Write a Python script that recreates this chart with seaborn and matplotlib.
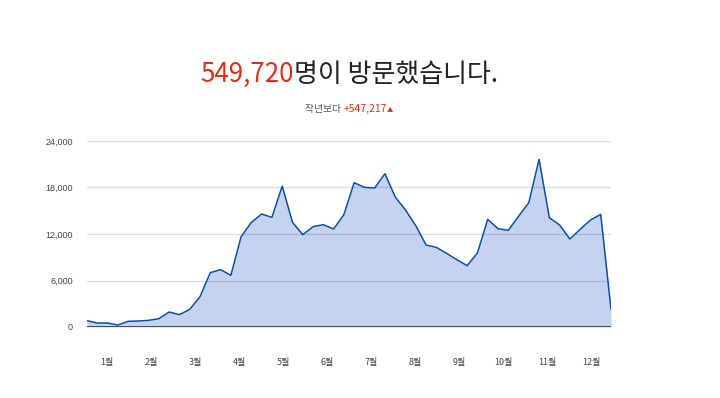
import numpy as np
import pandas as pd
import matplotlib
matplotlib.use('Agg')
import matplotlib.pyplot as plt
import seaborn as sns

# weekly visitors
visitors = [817, 516, 516, 258, 731, 774, 860, 1075, 1935, 1591,
            2280, 3914, 7011, 7398, 6667, 11656, 13505, 14580, 14150, 18193,
            13505, 11914, 12946, 13204, 12645, 14494, 18623, 18021, 17935, 19785,
            16774, 15097, 13075, 10580, 10279, 9505, 8688, 7914, 9548, 13892,
            12688, 12473, 14280, 16043, 21634, 14107, 13161, 11355, 12602, 13806,
            14537, 2280]
months = ['1월', '2월', '3월', '4월', '5월', '6월', '7월', '8월', '9월', '10월', '11월', '12월']
y_ticks = [0, 6000, 12000, 18000, 24000]
total = '549,720'
diff = '+547,217'

df = pd.DataFrame({'week': np.arange(len(visitors)), 'visitors': visitors})

sns.set_style('white')
plt.rcParams['font.family'] = ['Noto Sans CJK KR', 'DejaVu Sans']

line_c = '#0d4ea6'
fill_c = '#c3d3f0'
red = '#d9321c'

fig = plt.figure(figsize=(7.2, 3.98), dpi=100)
ax = fig.add_axes([87 / 720, 1 - 327 / 398, (611 - 87) / 720, (327 - 141) / 398])

ax.fill_between(df['week'], df['visitors'], color=fill_c, lw=0, zorder=1)
sns.lineplot(data=df, x='week', y='visitors', ax=ax, color=line_c, lw=1.1, zorder=3)

ax.set_xlim(0, len(visitors) - 1)
ax.set_ylim(0, 24000)
ax.set_yticks(y_ticks)
ax.set_yticklabels([f'{v:,}' for v in y_ticks], fontsize=6.5, color='#444444',
                   family=['Liberation Sans', 'DejaVu Sans'])
for v in y_ticks[1:]:
    ax.axhline(v, color='#000000', alpha=0.14, lw=0.9, zorder=2)
ax.axhline(0, color='#333333', lw=1.2, zorder=4)

month_pos = [1.95 + 4.29 * i for i in range(len(months))]
ax.set_xticks(month_pos)
ax.set_xticklabels(months, fontsize=6.5, color='#444444')
ax.tick_params(axis='x', length=0, pad=22)
ax.tick_params(axis='y', length=0, pad=10)
for s in ax.spines.values():
    s.set_visible(False)
ax.set_xlabel('')
ax.set_ylabel('')

# title made of coloured pieces, centred
def centred_line(pieces, y, cx, weight='normal'):
    fig.canvas.draw()
    r = fig.canvas.get_renderer()
    texts = []
    for s, c, fs in pieces:
        t = fig.text(0, y, s, color=c, fontsize=fs, va='baseline', ha='left',
                     fontweight=weight)
        texts.append(t)
    widths = [t.get_window_extent(renderer=r).width for t in texts]
    x = cx - sum(widths) / 2
    for t, w in zip(texts, widths):
        t.set_position((x / 720, y))
        x += w

centred_line([(total, red, 18.7), ('명이 방문했습니다.', '#222222', 18.7)],
             1 - 82 / 398, 349, weight='light')
centred_line([('작년보다 ', '#555555', 7), (diff, red, 7.5), ('▲', red, 4.5)], 1 - 112 / 398, 349)

plt.savefig('out.png', dpi=100)
